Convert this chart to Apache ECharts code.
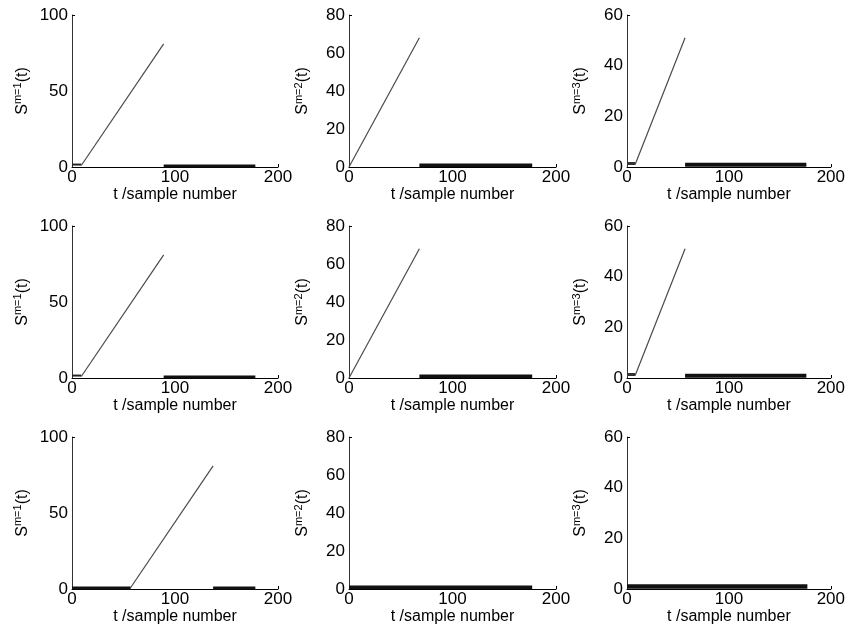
<!DOCTYPE html>
<html>
<head>
<meta charset="utf-8">
<script src="https://cdn.jsdelivr.net/npm/echarts@6/dist/echarts.min.js"></script>
<style>
  html, body { margin: 0; padding: 0; background: #fff; }
  #chart { width: 848px; height: 633px; }
</style>
</head>
<body>
<div id="chart"></div>
<script>
// x range and y range of each column (m = 1, 2, 3)
const xTicks = [0, 100, 200]
const yMax = [100, 80, 60]
const yStep = [50, 20, 20]

// rows 1 and 2 (same curves)
const m1Start = [[0, 1.6], [9, 1.6]]
const m1Ramp = [[9, 1], [89, 81]]
const m1Tail = [[89, 0.7], [178, 0.7]]

const m2Ramp = [[0, 0], [68, 68]]
const m2Tail = [[68, 0.9], [177, 0.9]]

const m3Start = [[0, 1.4], [8, 1.4]]
const m3Ramp = [[8, 1], [57, 51]]
const m3Tail = [[57, 0.9], [176, 0.9]]

// row 3
const r3m1Head = [[0, 0.7], [57, 0.7]]
const r3m1Ramp = [[57, 1], [137, 81]]
const r3m1Tail = [[137, 0.7], [178, 0.7]]
const r3m2Flat = [[0, 0.9], [177, 0.9]]
const r3m3Flat = [[0, 1], [177, 1]]

const rampStyle = { color: '#4a4a4a', width: 1.2 }
const thickStyle = { color: '#111', width: 3 }

// each panel: list of [data, style]
const panels = [
  [[m1Start, { color: '#222', width: 2 }], [m1Ramp, rampStyle], [m1Tail, thickStyle]],
  [[m2Ramp, rampStyle], [m2Tail, { color: '#111', width: 3.5 }]],
  [[m3Start, { color: '#333', width: 3 }], [m3Ramp, rampStyle], [m3Tail, { color: '#111', width: 4 }]],
  [[m1Start, { color: '#222', width: 2 }], [m1Ramp, rampStyle], [m1Tail, thickStyle]],
  [[m2Ramp, rampStyle], [m2Tail, { color: '#111', width: 3.5 }]],
  [[m3Start, { color: '#333', width: 3 }], [m3Ramp, rampStyle], [m3Tail, { color: '#111', width: 4 }]],
  [[r3m1Head, thickStyle], [r3m1Ramp, rampStyle], [r3m1Tail, thickStyle]],
  [[r3m2Flat, { color: '#111', width: 3.5 }]],
  [[r3m3Flat, { color: '#111', width: 4.5 }]]
]

const colLeft = [72, 349, 627]
const colWidth = [206, 207, 206]
const rowTop = [15, 226, 437]
const rowHeight = 152

const font = "'Liberation Sans', Arial, sans-serif"

const chart = echarts.init(document.getElementById('chart'))

const grid = []
const xAxis = []
const yAxis = []
const series = []

panels.forEach(function(lines, i) {
  const r = Math.floor(i / 3)
  const c = i % 3
  grid.push({ left: colLeft[c], top: rowTop[r], width: colWidth[c], height: rowHeight })
  xAxis.push({
    type: 'value',
    gridIndex: i,
    min: xTicks[0],
    max: xTicks[xTicks.length - 1],
    interval: 100,
    name: 't /sample number',
    nameLocation: 'middle',
    nameGap: 18,
    nameTextStyle: { color: '#000', fontSize: 16, fontFamily: font },
    axisLine: { show: true, lineStyle: { color: '#000', width: 1 } },
    axisTick: { show: true, inside: true, length: 3, customValues: [200], lineStyle: { color: '#000' } },
    axisLabel: { color: '#000', fontSize: 17, fontFamily: font, margin: 2 },
    splitLine: { show: false }
  })
  yAxis.push({
    type: 'value',
    gridIndex: i,
    min: 0,
    max: yMax[c],
    interval: yStep[c],
    name: '{s|S}{sup|m=' + (c + 1) + '}{s|(t)}',
    nameLocation: 'middle',
    nameGap: 38,
    nameTextStyle: {
      color: '#000',
      fontFamily: font,
      rich: {
        s: { fontSize: 16, fontFamily: font, color: '#000', lineHeight: 18, verticalAlign: 'bottom' },
        sup: { fontSize: 11, fontFamily: font, color: '#000', lineHeight: 12, padding: [0, 0, 12, 0], verticalAlign: 'top' }
      }
    },
    axisLine: { show: true, lineStyle: { color: '#333', width: 1 } },
    axisTick: { show: true, inside: true, length: 3, customValues: [yMax[c]], lineStyle: { color: '#000' } },
    axisLabel: { color: '#000', fontSize: 17, fontFamily: font, margin: 4 },
    splitLine: { show: false }
  })
  lines.forEach(function(l) {
    series.push({
      type: 'line',
      xAxisIndex: i,
      yAxisIndex: i,
      data: l[0],
      showSymbol: false,
      silent: true,
      animation: false,
      lineStyle: l[1]
    })
  })
})

chart.setOption({
  backgroundColor: '#fff',
  animation: false,
  grid: grid,
  xAxis: xAxis,
  yAxis: yAxis,
  series: series
})
</script>
</body>
</html>
